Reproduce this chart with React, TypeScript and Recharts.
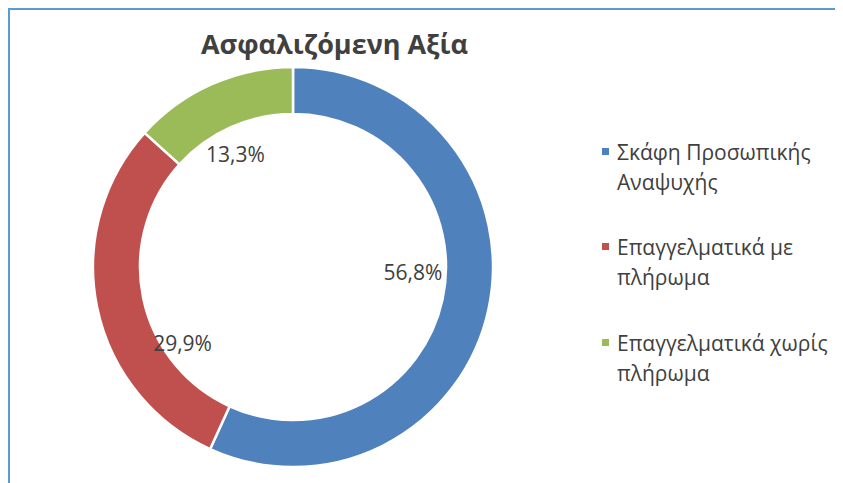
import React from 'react';
import { PieChart, Pie, Cell, Legend } from 'recharts';

const categories = ['Σκάφη Προσωπικής Αναψυχής', 'Επαγγελματικά με πλήρωμα', 'Επαγγελματικά χωρίς πλήρωμα'];
const shares = [56.8, 29.9, 13.3];
const colors = ['#4F81BD', '#C0504D', '#9BBB59'];
const titleText = 'Ασφαλιζόμενη Αξία';

// label placement styling (angle shift from slice middle, distance from centre)
const labelAngleShift = [9.8, 22.8, 3];
const labelRadius = [120, 134, 127];

const data = categories.map((name, i) => ({ name, value: shares[i] }));

const FONT = '"Open Sans", "Noto Sans", sans-serif';
const TEXT = '#404040';
const RAD = Math.PI / 180;

const renderLabel = (props: any) => {
  const { cx, cy, midAngle, index, value } = props;
  const a = midAngle + labelAngleShift[index];
  const r = labelRadius[index];
  const x = cx + r * Math.cos(-a * RAD);
  const y = cy + r * Math.sin(-a * RAD);
  return (
    <text x={x} y={y} textAnchor="middle" dominantBaseline="central" fill={TEXT} fontFamily={FONT} fontSize={21}>
      {value.toFixed(1).replace('.', ',') + '%'}
    </text>
  );
};

const renderLegend = () => (
  <div style={{ fontFamily: FONT, fontSize: 21, color: TEXT }}>
    {categories.map((name, i) => (
      <div key={name} style={{ position: 'relative', paddingLeft: 15, lineHeight: '30px', height: 60, marginBottom: i === 0 ? 35 : 36, width: 228 }}>
        <span style={{ position: 'absolute', left: 0, top: 11, width: 7, height: 7, background: colors[i] }} />
        {name}
      </div>
    ))}
  </div>
);

export default function App() {
  return (
    <div style={{ position: 'relative', width: 835, height: 475 }}>
      <div style={{ position: 'absolute', left: -1, top: -1, width: 836, height: 476, borderTop: '3px solid #5B9BD5', borderLeft: '3px solid #5B9BD5', boxSizing: 'border-box' }} />
      <PieChart width={835} height={475} margin={{ top: 0, right: 0, bottom: 0, left: 0 }}>
        <text x={326.5} y={35} textAnchor="middle" dominantBaseline="central" fill={TEXT} fontFamily={FONT} fontWeight="bold" fontSize={27}>
          {titleText}
        </text>
        <Pie
          data={data}
          dataKey="value"
          nameKey="name"
          cx={285}
          cy={259}
          innerRadius={153}
          outerRadius={200}
          startAngle={90}
          endAngle={-270}
          stroke="#ffffff"
          strokeWidth={2.5}
          label={renderLabel}
          labelLine={false}
          isAnimationActive={false}
        >
          {data.map((d, i) => (
            <Cell key={d.name} fill={colors[i]} />
          ))}
        </Pie>
        <Legend
          layout="vertical"
          align="right"
          verticalAlign="top"
          content={renderLegend}
          wrapperStyle={{ position: 'absolute', left: 594, top: 129, width: 240 }}
        />
      </PieChart>
    </div>
  );
}
